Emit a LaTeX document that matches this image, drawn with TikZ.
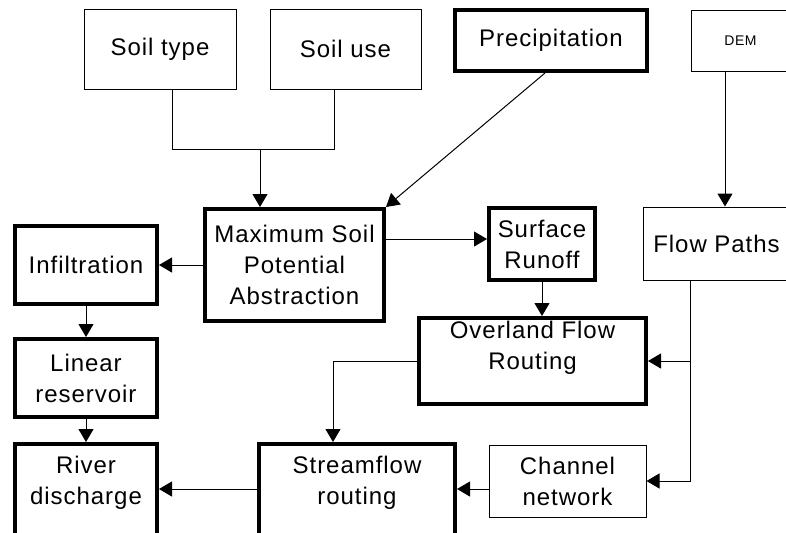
\documentclass[tikz,border=0pt]{standalone}
\usepackage{fontspec}
\setmainfont{Liberation Sans}[LetterSpace=4]
\usetikzlibrary{arrows.meta}

\tikzset{
  box/.style={draw, line width=0.5pt, inner sep=1pt, align=center,
    font=\fontsize{12}{15.5}\selectfont},
  heavy/.style={box, line width=2pt},
  arr/.style={-{Triangle[length=6.5pt,width=7.5pt]}, line width=0.5pt},
}

\begin{document}
\begin{tikzpicture}[x=0.5pt, y=-0.5pt]
        \useasboundingbox (0,0) rectangle (786,532);
        % inputs
        \node[box, minimum width=76pt, minimum height=40pt] (soiltype) at (160,49) {Soil type};
        \node[box, minimum width=75.5pt, minimum height=40pt] (soiluse) at (345.5,49) {Soil use};
        \node[heavy, minimum width=96pt, minimum height=30.5pt] (precip) at (551,40.5) {Precipitation};
        \node[box, minimum width=49.5pt, minimum height=30.5pt, font=\fontsize{7}{9}\selectfont] (dem) at (740.5,40.5) {DEM};
        % processes
        \node[heavy, minimum width=89.5pt, minimum height=56pt] (maxsoil) at (294.5,265) {Maximum Soil\\Potential\\Abstraction};
        \node[heavy, minimum width=71pt, minimum height=39pt] (infil) at (86,265) {Infiltration};
        \node[heavy, minimum width=71pt, minimum height=39pt] (linear) at (86,378) {Linear\\reservoir};
        \node[heavy, minimum width=71pt, minimum height=52pt] (river) at (86,496) {River\\discharge\\\mbox{}};
        \node[heavy, minimum width=98pt, minimum height=52pt] (stream) at (357,496) {Streamflow\\routing\\\mbox{}};
        \node[box, minimum width=78.5pt, minimum height=36pt] (channel) at (567.5,481) {Channel\\network};
        \node[heavy, minimum width=113.5pt, minimum height=43pt] (overland) at (532.5,361) {Overland Flow\\Routing\\\mbox{}};
        \node[heavy, minimum width=53pt, minimum height=36pt] (runoff) at (542,244) {Surface\\Runoff};
        \node[box, minimum width=73.5pt, minimum height=36.5pt] (flowpaths) at (716.5,243.5) {Flow Paths};
        % connectors
        \coordinate (merge) at (260,149);
        \coordinate (tap) at (690,280);
        \coordinate (low) at (0,489);
        \draw[line width=0.5pt] ([xshift=6pt]soiltype.south) |- (merge);
        \draw[line width=0.5pt] ([xshift=-5.75pt]soiluse.south) |- (merge);
        \draw[arr] (merge) -- (merge |- maxsoil.north);
        \draw[arr] ([xshift=-3pt]precip.south) -- (maxsoil.north east);
        \draw[arr] ([xshift=-7.75pt]dem.south) -- ([xshift=-7.75pt]dem.south |- flowpaths.north);
        \draw[arr] (maxsoil.west) -- (infil.east);
        \draw[arr] (maxsoil.east |- 0,239) -- (runoff.west |- 0,239);
        \draw[arr] (runoff.south) -- (runoff.south |- overland.north);
        \draw[arr] (tap) |- (channel.east);
        \draw[arr] (tap |- overland.east) -- (overland.east);
        \draw[arr] (overland.west) -| ([xshift=-12pt]stream.north);
        \draw[arr] (channel.west |- low) -- (stream.east |- low);
        \draw[arr] (stream.west |- low) -- (river.east |- low);
        \draw[arr] (infil.south) -- (linear.north);
        \draw[arr] (linear.south) -- (river.north);
\end{tikzpicture}
\end{document}
